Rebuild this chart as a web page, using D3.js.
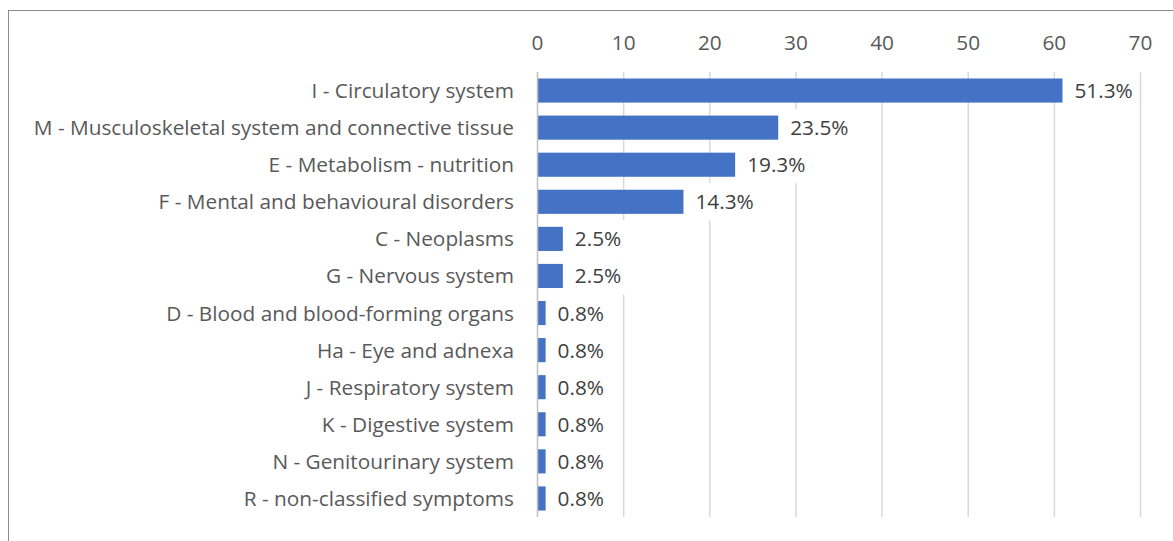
<!DOCTYPE html>
<html>
<head>
<meta charset="utf-8">
<script src="https://cdn.jsdelivr.net/npm/d3@7"></script>
<style>
  html, body { margin: 0; padding: 0; background: #fff; }
  svg { display: block; }
</style>
</head>
<body>
<svg id="chart" width="1173" height="541"></svg>
<script>
const categories = [
  "I - Circulatory system",
  "M - Musculoskeletal system and connective tissue",
  "E - Metabolism - nutrition",
  "F - Mental and behavioural disorders",
  "C - Neoplasms",
  "G - Nervous system",
  "D - Blood and blood-forming organs",
  "Ha - Eye and adnexa",
  "J - Respiratory system",
  "K - Digestive system",
  "N - Genitourinary system",
  "R - non-classified symptoms"
];
const counts = [61, 28, 23, 17, 3, 3, 1, 1, 1, 1, 1, 1];
const percents = [51.3, 23.5, 19.3, 14.3, 2.5, 2.5, 0.8, 0.8, 0.8, 0.8, 0.8, 0.8];
const xTicks = [0, 10, 20, 30, 40, 50, 60, 70];

const svg = d3.select("#chart");
const font = "'Open Sans', sans-serif";
const fs = 20.8;

// chart border
svg.append("rect")
  .attr("x", 8.5).attr("y", 10.5)
  .attr("width", 1180).attr("height", 560)
  .attr("fill", "none").attr("stroke", "#8c8c8c").attr("stroke-width", 1);

const x = d3.scaleLinear().domain([0, 70]).range([537, 1140]);
const y = d3.scaleBand().domain(categories).range([72, 517])
  .paddingInner(0.35).paddingOuter(0.175);

// gridlines
const grid = svg.append("g");
grid.selectAll("line").data(xTicks.slice(1)).join("line")
  .attr("x1", d => x(d) + 0.5).attr("x2", d => x(d) + 0.5)
  .attr("y1", 72).attr("y2", 517)
  .attr("stroke", "#d9d9d9").attr("stroke-width", 1.5);

// top axis tick labels
const xAxis = d3.axisTop(x).tickValues(xTicks).tickSize(0).tickPadding(0);
const gx = svg.append("g").attr("transform", "translate(0,50)").call(xAxis);
gx.select(".domain").remove();
gx.selectAll("text")
  .attr("font-family", font).attr("font-size", fs).attr("fill", "#595959");

// bars
svg.append("g").selectAll("rect").data(categories).join("rect")
  .attr("x", x(0))
  .attr("y", d => y(d))
  .attr("width", (d, i) => x(counts[i]) - x(0))
  .attr("height", y.bandwidth())
  .attr("fill", "#4472C4");

// data labels with white background boxes
const step = y.step();
const lab = svg.append("g").selectAll("g").data(categories).join("g")
  .attr("transform", (d, i) => `translate(${x(counts[i]) + 12},${y(d) + y.bandwidth() / 2})`);
lab.append("text")
  .attr("dy", "0.36em")
  .attr("font-family", font).attr("font-size", fs).attr("fill", "#404040")
  .text((d, i) => percents[i].toFixed(1) + "%");
lab.each(function () {
  const g = d3.select(this);
  const bb = g.select("text").node().getBBox();
  g.insert("rect", "text")
    .attr("x", bb.x - 6).attr("width", bb.width + 12)
    .attr("y", -step / 2).attr("height", step)
    .attr("fill", "#fff");
});

// category axis
const yAxis = d3.axisLeft(y).tickSize(0).tickPadding(23);
const gy = svg.append("g").attr("transform", `translate(${x(0)},0)`).call(yAxis);
gy.select(".domain").attr("stroke", "#bfbfbf").attr("stroke-width", 1.5)
  .attr("d", `M0.5,72V517`);
gy.selectAll("text")
  .attr("dy", "0.36em")
  .attr("font-family", font).attr("font-size", fs).attr("fill", "#595959");
</script>
</body>
</html>
